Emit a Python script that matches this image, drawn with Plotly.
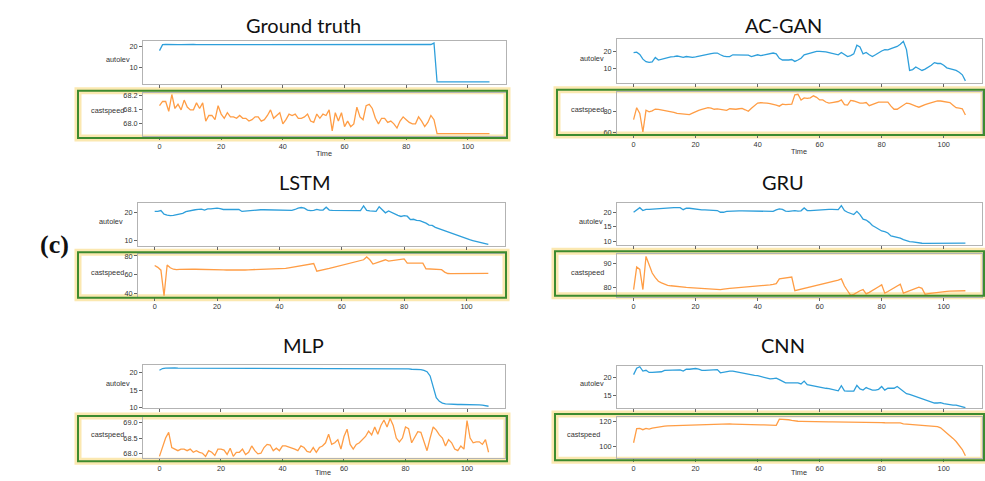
import plotly.graph_objects as go

W, H = 985, 481
time = list(range(108))

gt_autolev = [18.1, 21.0, 21.1, 21.0, 21.0, 21.1, 21.0, 21.0, 21.1, 20.9,
              21.0, 21.1, 21.0, 21.0, 21.1, 21.0, 20.9, 21.0, 21.1, 21.0,
              21.0, 21.1, 21.0, 21.0, 20.9, 21.0, 21.1, 21.0, 21.0, 21.0,
              21.1, 21.0, 21.0, 21.1, 21.0, 21.0, 20.9, 21.0, 21.0, 21.1,
              21.0, 21.0, 21.0, 21.1, 21.0, 20.9, 21.0, 21.0, 21.1, 21.0,
              21.0, 21.0, 21.1, 21.0, 21.0, 21.0, 20.9, 21.0, 21.1, 21.0,
              21.0, 21.0, 21.1, 21.0, 21.0, 21.0, 21.1, 21.0, 20.9, 21.0,
              21.0, 21.1, 20.9, 21.0, 21.0, 21.1, 21.0, 21.0, 21.0, 21.1,
              21.0, 21.0, 21.0, 21.0, 21.0, 21.0, 21.0, 21.0, 21.1, 21.8,
              2.7, 2.7, 2.7, 2.7, 2.7, 2.7, 2.7, 2.7, 2.7, 2.7,
              2.7, 2.7, 2.7, 2.7, 2.7, 2.7, 2.7, 2.7]
gt_castspeed = [68.13, 68.16, 68.16, 68.09, 68.21, 68.11, 68.14, 68.10, 68.17, 68.12,
                68.10, 68.10, 68.15, 68.11, 68.15, 68.02, 68.06, 68.06, 68.03, 68.13,
                68.07, 68.04, 68.08, 68.05, 68.05, 68.04, 68.06, 68.04, 68.04, 68.02,
                68.03, 68.05, 68.05, 68.02, 68.03, 68.06, 68.10, 68.04, 68.06, 68.08,
                68.00, 68.03, 68.07, 68.06, 68.07, 68.04, 68.04, 68.05, 68.07, 68.02,
                68.01, 68.07, 68.04, 68.07, 68.06, 68.10, 67.95, 68.08, 68.02, 68.08,
                67.98, 68.02, 67.98, 68.00, 68.12, 68.05, 68.03, 68.13, 68.14, 68.11,
                68.04, 68.00, 68.04, 68.04, 68.01, 68.02, 68.00, 67.97, 68.02, 68.05,
                68.03, 68.01, 68.00, 68.00, 68.05, 68.02, 67.98, 68.01, 68.06, 68.03,
                67.93, 67.93, 67.93, 67.93, 67.93, 67.93, 67.93, 67.93, 67.93, 67.93,
                67.93, 67.93, 67.93, 67.93, 67.93, 67.93, 67.93, 67.93]

acgan_autolev = [19.2, 19.5, 18.2, 15.5, 14.0, 13.7, 13.9, 16.5, 15.0, 15.5,
                 16.0, 16.5, 16.8, 17.0, 17.3, 17.0, 16.5, 17.0, 16.8, 16.5,
                 16.8, 17.2, 17.8, 18.3, 18.5, 18.7, 19.0, 19.0, 18.0, 17.2,
                 17.0, 17.0, 18.0, 18.0, 18.1, 18.0, 18.0, 17.8, 17.0, 17.5,
                 18.0, 17.5, 17.8, 18.0, 18.5, 19.0, 18.5, 16.0, 15.0, 14.8,
                 15.0, 15.3, 14.2, 15.0, 16.0, 18.0, 18.5, 19.0, 19.5, 20.0,
                 20.0, 20.0, 19.7, 19.3, 19.0, 18.5, 18.0, 19.3, 18.0, 17.0,
                 17.5, 18.5, 23.5, 22.5, 18.5, 19.3, 18.0, 17.0, 18.0, 19.2,
                 20.2, 21.0, 20.8, 21.5, 22.0, 22.8, 24.0, 25.7, 21.0, 9.0,
                 9.5, 11.0, 10.0, 9.0, 9.8, 10.8, 12.0, 13.5, 13.0, 13.0,
                 12.0, 10.5, 10.0, 9.5, 9.0, 8.0, 6.5, 3.0]
acgan_castspeed = [72.0, 83.5, 78.0, 60.0, 81.0, 79.5, 80.5, 82.2, 81.8, 81.3,
                   80.8, 80.3, 79.8, 79.0, 78.0, 77.8, 77.6, 77.3, 76.8, 78.2,
                   80.0, 81.0, 81.8, 82.5, 83.5, 83.0, 82.0, 82.3, 82.0, 81.5,
                   81.0, 82.5, 82.2, 82.0, 82.5, 82.8, 81.5, 80.0, 83.0, 86.0,
                   88.0, 88.3, 88.5, 88.0, 87.5, 87.0, 86.0, 85.0, 87.0, 86.5,
                   86.8, 87.0, 96.0, 96.5, 91.0, 93.0, 92.5, 93.0, 95.0, 93.5,
                   91.0, 91.0, 89.0, 88.0, 88.5, 89.0, 89.5, 91.0, 86.5, 86.0,
                   90.5, 90.0, 89.0, 88.0, 88.0, 88.5, 85.5, 86.5, 88.0, 89.0,
                   89.0, 89.0, 89.0, 85.0, 82.0, 82.0, 84.0, 86.0, 88.0, 87.5,
                   86.0, 85.0, 84.0, 85.5, 86.5, 87.5, 88.5, 89.0, 90.0, 90.0,
                   89.5, 89.0, 88.5, 86.0, 83.5, 83.0, 82.5, 76.5]

lstm_autolev = [20.3, 20.3, 20.6, 19.3, 19.0, 18.8, 18.9, 19.2, 19.5, 19.6,
                20.2, 20.5, 20.7, 20.9, 21.0, 21.1, 20.8, 21.2, 21.2, 21.3,
                21.5, 21.3, 21.0, 21.0, 21.0, 21.0, 21.0, 21.0, 20.3, 20.4,
                20.6, 20.8, 20.9, 20.9, 20.9, 20.9, 20.9, 20.9, 20.9, 20.9,
                20.9, 20.9, 20.9, 20.8, 20.7, 21.0, 21.5, 21.7, 21.5, 20.8,
                20.6, 20.7, 21.0, 20.8, 20.8, 21.8, 20.8, 20.7, 20.7, 20.7,
                20.7, 20.7, 20.7, 20.7, 20.7, 20.7, 20.6, 22.3, 20.7, 20.5,
                20.3, 20.3, 22.0, 21.0, 19.8, 20.5, 19.9, 19.2, 18.9, 18.5,
                18.8, 18.6, 17.4, 17.5, 17.1, 17.0, 16.6, 16.1, 15.4, 15.3,
                14.6, 14.2, 13.8, 13.4, 12.9, 12.4, 12.0, 11.6, 11.2, 10.9,
                10.5, 10.2, 9.9, 9.6, 9.3, 9.0, 8.7, 8.5]
lstm_castspeed = [70.0, 68.0, 65.0, 38.0, 70.5, 67.5, 66.0, 65.5, 65.8, 66.0,
                  66.0, 66.0, 66.0, 66.0, 66.0, 66.0, 65.9, 65.8, 65.7, 65.6,
                  65.5, 65.4, 65.3, 65.2, 65.1, 65.0, 65.0, 64.9, 65.0, 65.2,
                  65.4, 65.5, 65.7, 65.8, 66.0, 66.1, 66.2, 66.3, 66.4, 66.5,
                  66.6, 66.8, 67.0, 67.5, 68.0, 68.5, 69.0, 69.8, 70.5, 71.0,
                  71.5, 72.0, 64.0, 64.5, 65.2, 66.0, 66.8, 67.6, 68.4, 69.2,
                  70.0, 70.8, 71.6, 72.4, 73.2, 74.0, 75.0, 76.0, 79.0, 76.0,
                  71.5, 72.5, 73.5, 74.5, 76.0, 74.5, 75.0, 75.5, 76.0, 76.5,
                  77.0, 72.5, 72.5, 72.5, 72.5, 72.5, 72.5, 66.5, 66.3, 66.2,
                  66.0, 66.0, 65.5, 63.0, 61.5, 61.3, 61.3, 61.3, 61.3, 61.3,
                  61.3, 61.4, 61.4, 61.4, 61.5, 61.5, 61.5, 61.6]

gru_autolev = [20.0, 20.8, 21.6, 20.6, 21.0, 21.0, 21.1, 21.1, 21.2, 21.2,
               21.5, 21.6, 21.6, 21.6, 21.6, 21.6, 20.9, 21.4, 21.4, 21.2,
               21.2, 20.9, 20.8, 20.8, 20.8, 20.8, 20.8, 20.6, 20.0, 20.0,
               20.3, 20.4, 20.5, 20.5, 20.5, 20.5, 20.5, 20.5, 20.5, 20.5,
               20.5, 20.5, 20.4, 20.4, 20.3, 20.3, 20.8, 21.2, 21.0, 20.4,
               20.3, 20.4, 20.6, 20.4, 20.5, 21.5, 20.6, 20.6, 20.7, 20.8,
               20.9, 20.9, 20.9, 21.0, 21.0, 20.9, 20.9, 22.3, 20.6, 20.0,
               19.7, 19.2, 20.3, 19.2, 17.6, 17.3, 16.5, 15.4, 14.8, 14.0,
               13.5, 13.3, 12.8, 11.8, 11.6, 11.3, 11.0, 10.5, 10.1, 9.8,
               9.7, 9.5, 9.35, 9.25, 9.2, 9.2, 9.2, 9.2, 9.2, 9.2,
               9.2, 9.2, 9.25, 9.25, 9.25, 9.3, 9.3, 9.3]
gru_castspeed = [79.0, 88.5, 87.5, 79.0, 93.0, 89.0, 86.0, 84.0, 82.5, 81.8,
                 81.2, 80.8, 80.6, 80.4, 80.2, 80.1, 80.0, 79.9, 79.8, 79.7,
                 79.6, 79.5, 79.4, 79.3, 79.2, 79.1, 79.0, 79.0, 79.0, 79.2,
                 79.5, 79.5, 79.6, 79.7, 79.8, 79.9, 80.0, 80.1, 80.2, 80.3,
                 80.4, 80.5, 80.6, 80.8, 81.0, 81.2, 81.5, 83.5, 83.7, 84.0,
                 84.2, 84.3, 78.5, 78.8, 79.1, 79.4, 79.7, 80.0, 80.3, 80.6,
                 80.9, 81.2, 81.5, 81.8, 82.1, 82.5, 83.0, 83.5, 80.5, 78.5,
                 76.5, 77.0, 77.8, 78.5, 79.0, 77.2, 77.8, 78.5, 79.3, 80.2,
                 81.0, 77.5, 78.2, 78.9, 79.6, 80.4, 81.3, 77.5, 78.0, 78.5,
                 79.0, 79.5, 80.0, 79.5, 77.0, 77.3, 77.5, 77.7, 77.9, 78.0,
                 78.1, 78.2, 78.3, 78.3, 78.4, 78.4, 78.5, 78.5]

mlp_autolev = [20.6, 21.1, 21.2, 21.3, 21.3, 21.3, 21.2, 21.2, 21.2, 21.2,
               21.1, 21.2, 21.2, 21.1, 21.1, 21.2, 21.2, 21.2, 21.2, 21.2,
               21.2, 21.2, 21.2, 21.1, 21.1, 21.2, 21.1, 21.1, 21.2, 21.2,
               21.1, 21.2, 21.2, 21.2, 21.2, 21.2, 21.2, 21.1, 21.1, 21.2,
               21.2, 21.2, 21.2, 21.1, 21.1, 21.2, 21.2, 21.1, 21.2, 21.2,
               21.1, 21.1, 21.2, 21.2, 21.1, 21.1, 21.1, 21.1, 21.1, 21.1,
               21.1, 21.1, 21.1, 21.1, 21.0, 21.1, 21.1, 21.1, 21.0, 21.1,
               21.1, 21.0, 21.0, 21.1, 21.1, 21.1, 21.0, 21.0, 21.0, 21.0,
               21.0, 21.0, 20.9, 20.9, 20.9, 20.8, 20.6, 20.2, 19.0, 15.8,
               12.8, 11.8, 11.3, 11.1, 11.0, 10.9, 10.9, 10.9, 10.9, 10.9,
               11.0, 10.8, 10.8, 10.9, 10.8, 10.7, 10.6, 10.4]
mlp_castspeed = [67.92, 68.20, 68.50, 68.68, 68.20, 68.15, 68.10, 68.15, 68.15, 68.10,
                 68.15, 68.05, 68.10, 68.05, 68.02, 67.92, 68.10, 68.05, 67.95, 68.15,
                 68.15, 68.12, 67.98, 68.18, 67.92, 68.05, 68.05, 68.15, 67.98, 68.05,
                 68.25, 68.10, 68.00, 68.02, 68.20, 68.30, 68.28, 68.10, 68.18, 68.10,
                 68.25, 68.25, 68.22, 68.20, 68.15, 68.10, 68.25, 68.20, 68.08, 68.05,
                 68.20, 68.05, 68.20, 68.25, 68.35, 68.62, 68.30, 68.35, 68.45, 68.15,
                 68.55, 68.78, 68.30, 68.15, 68.30, 68.35, 68.45, 68.55, 68.72, 68.60,
                 68.85, 68.62, 68.90, 69.07, 68.85, 69.12, 68.90, 68.50, 68.38, 68.50,
                 68.85, 68.80, 68.35, 68.55, 68.70, 68.68, 68.40, 68.10, 68.50, 68.85,
                 68.75, 68.60, 68.50, 68.25, 68.45, 68.35, 68.15, 68.10, 68.25, 68.15,
                 69.05, 68.50, 68.35, 68.38, 68.38, 68.30, 68.45, 68.05]

cnn_autolev = [20.8, 22.6, 23.0, 21.8, 22.0, 21.4, 21.4, 21.5, 21.5, 21.6,
               22.0, 22.0, 22.0, 22.1, 22.2, 22.1, 21.8, 22.3, 22.3, 22.4,
               22.5, 22.3, 22.0, 22.0, 22.1, 22.1, 22.2, 22.2, 21.3, 21.5,
               21.8, 21.8, 21.8, 21.6, 21.4, 21.2, 21.0, 20.8, 20.7, 20.6,
               20.5, 20.3, 20.1, 19.9, 19.6, 19.7, 19.8, 19.4, 19.0, 18.5,
               18.5, 18.5, 18.5, 18.5, 18.2, 19.0, 18.0, 17.8, 17.7, 17.6,
               17.4, 17.2, 17.0, 16.9, 16.7, 16.5, 16.3, 17.7, 16.3, 16.2,
               16.2, 16.2, 17.8, 16.8, 16.5, 17.2, 16.8, 16.5, 16.5, 16.7,
               17.5, 16.5, 17.0, 17.0, 17.0, 17.5, 16.8, 16.0, 15.5, 15.3,
               15.0, 14.6, 14.3, 14.0, 13.7, 13.4, 13.2, 12.9, 12.9, 13.0,
               12.7, 12.5, 12.4, 12.3, 12.3, 12.1, 11.8, 11.6]
cnn_castspeed = [103.0, 114.4, 114.5, 113.5, 114.5, 114.0, 114.8, 115.2, 116.0, 116.2,
                 116.3, 116.5, 116.6, 116.8, 116.9, 117.0, 117.1, 117.2, 117.4, 117.5,
                 117.6, 117.7, 117.8, 117.9, 118.0, 118.0, 118.0, 118.1, 118.1, 118.1,
                 118.2, 118.1, 118.0, 118.0, 117.9, 117.9, 117.8, 117.8, 117.7, 117.6,
                 117.5, 117.4, 117.3, 117.2, 117.1, 117.0, 117.0, 122.0, 122.0, 121.8,
                 121.5, 121.0, 120.5, 120.3, 120.2, 120.1, 120.0, 120.0, 119.9, 119.9,
                 119.8, 119.8, 119.8, 119.8, 119.8, 119.8, 119.8, 119.7, 119.6, 119.5,
                 119.2, 119.4, 119.5, 119.5, 119.4, 119.4, 119.3, 119.3, 119.3, 119.2,
                 119.2, 119.1, 119.1, 119.1, 119.0, 119.0, 119.0, 118.2, 118.0, 117.9,
                 117.8, 117.7, 117.5, 117.4, 117.2, 117.0, 116.8, 116.7, 116.0, 115.0,
                 113.0, 111.0, 109.0, 106.5, 104.0, 101.0, 97.5, 92.5]

x_ticks = [0, 20, 40, 60, 80, 100]

BLUE = "#2e9fdb"
ORANGE = "#ff9d45"
GREEN = "#3d8b2f"
GLOW = "rgba(250,224,150,0.75)"
SPINE = "#b3b3b3"
TICKFONT = dict(family="Liberation Sans", size=7.3, color="#333333")

# layout per panel (pixel geometry)
panels = [
    dict(title="Ground truth", auto=gt_autolev, cast=gt_castspeed,
         xpx=(143, 506), apx=(39, 82), cpx=(91, 135), green=(78, 507, 89, 137),
         arange=(1.8, 22.6), atick=[10, 20], crange=(67.913, 68.223), ctick=[68.0, 68.1, 68.2], cfmt=".1f",
         tpos=(303, 22), alab=(118, 57), clab=(107.5, 109), timepos=(324, 153)),
    dict(title="AC-GAN", auto=acgan_autolev, cast=acgan_castspeed,
         xpx=(617, 982), apx=(37, 81), cpx=(90, 133), green=(557, 984, 88, 134),
         arange=(1.9, 26.8), atick=[10, 20], crange=(58, 99), ctick=[60, 80], cfmt="",
         tpos=(783, 22), alab=(591.5, 56), clab=(587.5, 108), timepos=(799, 151)),
    dict(title="LSTM", auto=lstm_autolev, cast=lstm_castspeed,
         xpx=(138, 505), apx=(203, 247), cpx=(255, 298), green=(78, 506, 253, 299),
         arange=(7.8, 23.3), atick=[10, 20], crange=(37, 81.8), ctick=[40, 60, 80], cfmt="",
         tpos=(305, 182), alab=(111, 222), clab=(107.5, 273), timepos=None),
    dict(title="GRU", auto=gru_autolev, cast=gru_castspeed,
         xpx=(617, 982), apx=(203, 246), cpx=(255, 298), green=(555, 984, 252, 297),
         arange=(8.5, 23.2), atick=[10, 15, 20], crange=(76, 93.9), ctick=[80, 90], cfmt="",
         tpos=(783, 182), alab=(591, 222), clab=(587.5, 273), timepos=None),
    dict(title="MLP", auto=mlp_autolev, cast=mlp_castspeed,
         xpx=(143, 505), apx=(367, 411), cpx=(420, 462), green=(78, 507, 419, 465),
         arange=(9.9, 22.2), atick=[10, 15, 20], crange=(67.86, 69.17), ctick=[68.0, 68.5, 69.0], cfmt=".1f",
         tpos=(303, 347), alab=(118, 386), clab=(107.5, 438), timepos=(323, 476)),
    dict(title="CNN", auto=cnn_autolev, cast=cnn_castspeed,
         xpx=(617, 982), apx=(368, 411), cpx=(420, 462), green=(555, 984, 417, 464),
         arange=(11.5, 23.3), atick=[15, 20], crange=(90.5, 123.8), ctick=[100, 120], cfmt="",
         tpos=(783, 347), alab=(592, 386), clab=(583.5, 438), timepos=(799, 476)),
]


def px(x):
    return x / W


def py(y):
    return 1 - y / H


fig = go.Figure()
layout = dict(width=W, height=H, margin=dict(l=0, r=0, t=0, b=0),
              paper_bgcolor="white", plot_bgcolor="rgba(0,0,0,0)", showlegend=False)
annotations = []
shapes = []

XRANGE = [-5.35, 112.35]

for i, p in enumerate(panels):
    ia, ic = 2 * i + 1, 2 * i + 2
    xa = "x" if ia == 1 else f"x{ia}"
    ya = "y" if ia == 1 else f"y{ia}"
    xc, yc = f"x{ic}", f"y{ic}"
    fig.add_trace(go.Scatter(x=time, y=p["auto"], mode="lines", xaxis=xa, yaxis=ya,
                             line=dict(color=BLUE, width=1.3), hoverinfo="skip"))
    fig.add_trace(go.Scatter(x=time, y=p["cast"], mode="lines", xaxis=xc, yaxis=yc,
                             line=dict(color=ORANGE, width=1.3), hoverinfo="skip"))
    xdom = [px(p["xpx"][0]), px(p["xpx"][1])]
    common_x = dict(domain=xdom, range=XRANGE, tickvals=x_ticks, ticks="outside", ticklen=3,
                    tickwidth=0.8, tickcolor="#666666", showgrid=False, zeroline=False,
                    showline=True, mirror=True, linecolor=SPINE, linewidth=1, tickfont=TICKFONT)
    common_y = dict(ticks="outside", ticklen=3, tickwidth=0.8, tickcolor="#666666",
                    showgrid=False, zeroline=False, showline=True, mirror=True,
                    linecolor=SPINE, linewidth=1, tickfont=TICKFONT)
    layout["xaxis" if ia == 1 else f"xaxis{ia}"] = dict(common_x, anchor=ya, showticklabels=False)
    layout[f"xaxis{ic}"] = dict(common_x, anchor=yc, showticklabels=True, ticklabelstandoff=0)
    layout["yaxis" if ia == 1 else f"yaxis{ia}"] = dict(
        common_y, anchor=xa, domain=[py(p["apx"][1]), py(p["apx"][0])],
        range=list(p["arange"]), tickvals=p["atick"])
    layout[f"yaxis{ic}"] = dict(
        common_y, anchor=xc, domain=[py(p["cpx"][1]), py(p["cpx"][0])],
        range=list(p["crange"]), tickvals=p["ctick"], tickformat=p["cfmt"])

    annotations.append(dict(text=p["title"], x=px(p["tpos"][0]), y=py(p["tpos"][1]),
                            xref="paper", yref="paper", showarrow=False, xanchor="center",
                            yanchor="middle", font=dict(family="Lato", size=20, color="#111111")))
    annotations.append(dict(text="autolev", x=px(p["alab"][0]), y=py(p["alab"][1]),
                            xref="paper", yref="paper", showarrow=False, xanchor="center",
                            yanchor="middle", font=TICKFONT))
    annotations.append(dict(text="castspeed", x=px(p["clab"][0]), y=py(p["clab"][1]),
                            xref="paper", yref="paper", showarrow=False, xanchor="center",
                            yanchor="middle", font=TICKFONT))
    if p["timepos"]:
        annotations.append(dict(text="Time", x=px(p["timepos"][0]), y=py(p["timepos"][1]),
                                xref="paper", yref="paper", showarrow=False, xanchor="center",
                                yanchor="middle", font=TICKFONT))
    g = p["green"]
    shapes.append(dict(type="rect", xref="paper", yref="paper", x0=px(g[0]), x1=px(g[1]),
                       y0=py(g[3]), y1=py(g[2]), line=dict(color=GLOW, width=7), layer="below"))
    shapes.append(dict(type="rect", xref="paper", yref="paper", x0=px(g[0]), x1=px(g[1]),
                       y0=py(g[3]), y1=py(g[2]), line=dict(color=GREEN, width=2), layer="above"))

annotations.append(dict(text="<b>(c)</b>", x=px(54), y=py(245), xref="paper", yref="paper",
                        showarrow=False, xanchor="center", yanchor="middle",
                        font=dict(family="Liberation Serif", size=26, color="#111111")))

layout["annotations"] = annotations
layout["shapes"] = shapes
fig.update_layout(**layout)
fig.write_html("out.html")
